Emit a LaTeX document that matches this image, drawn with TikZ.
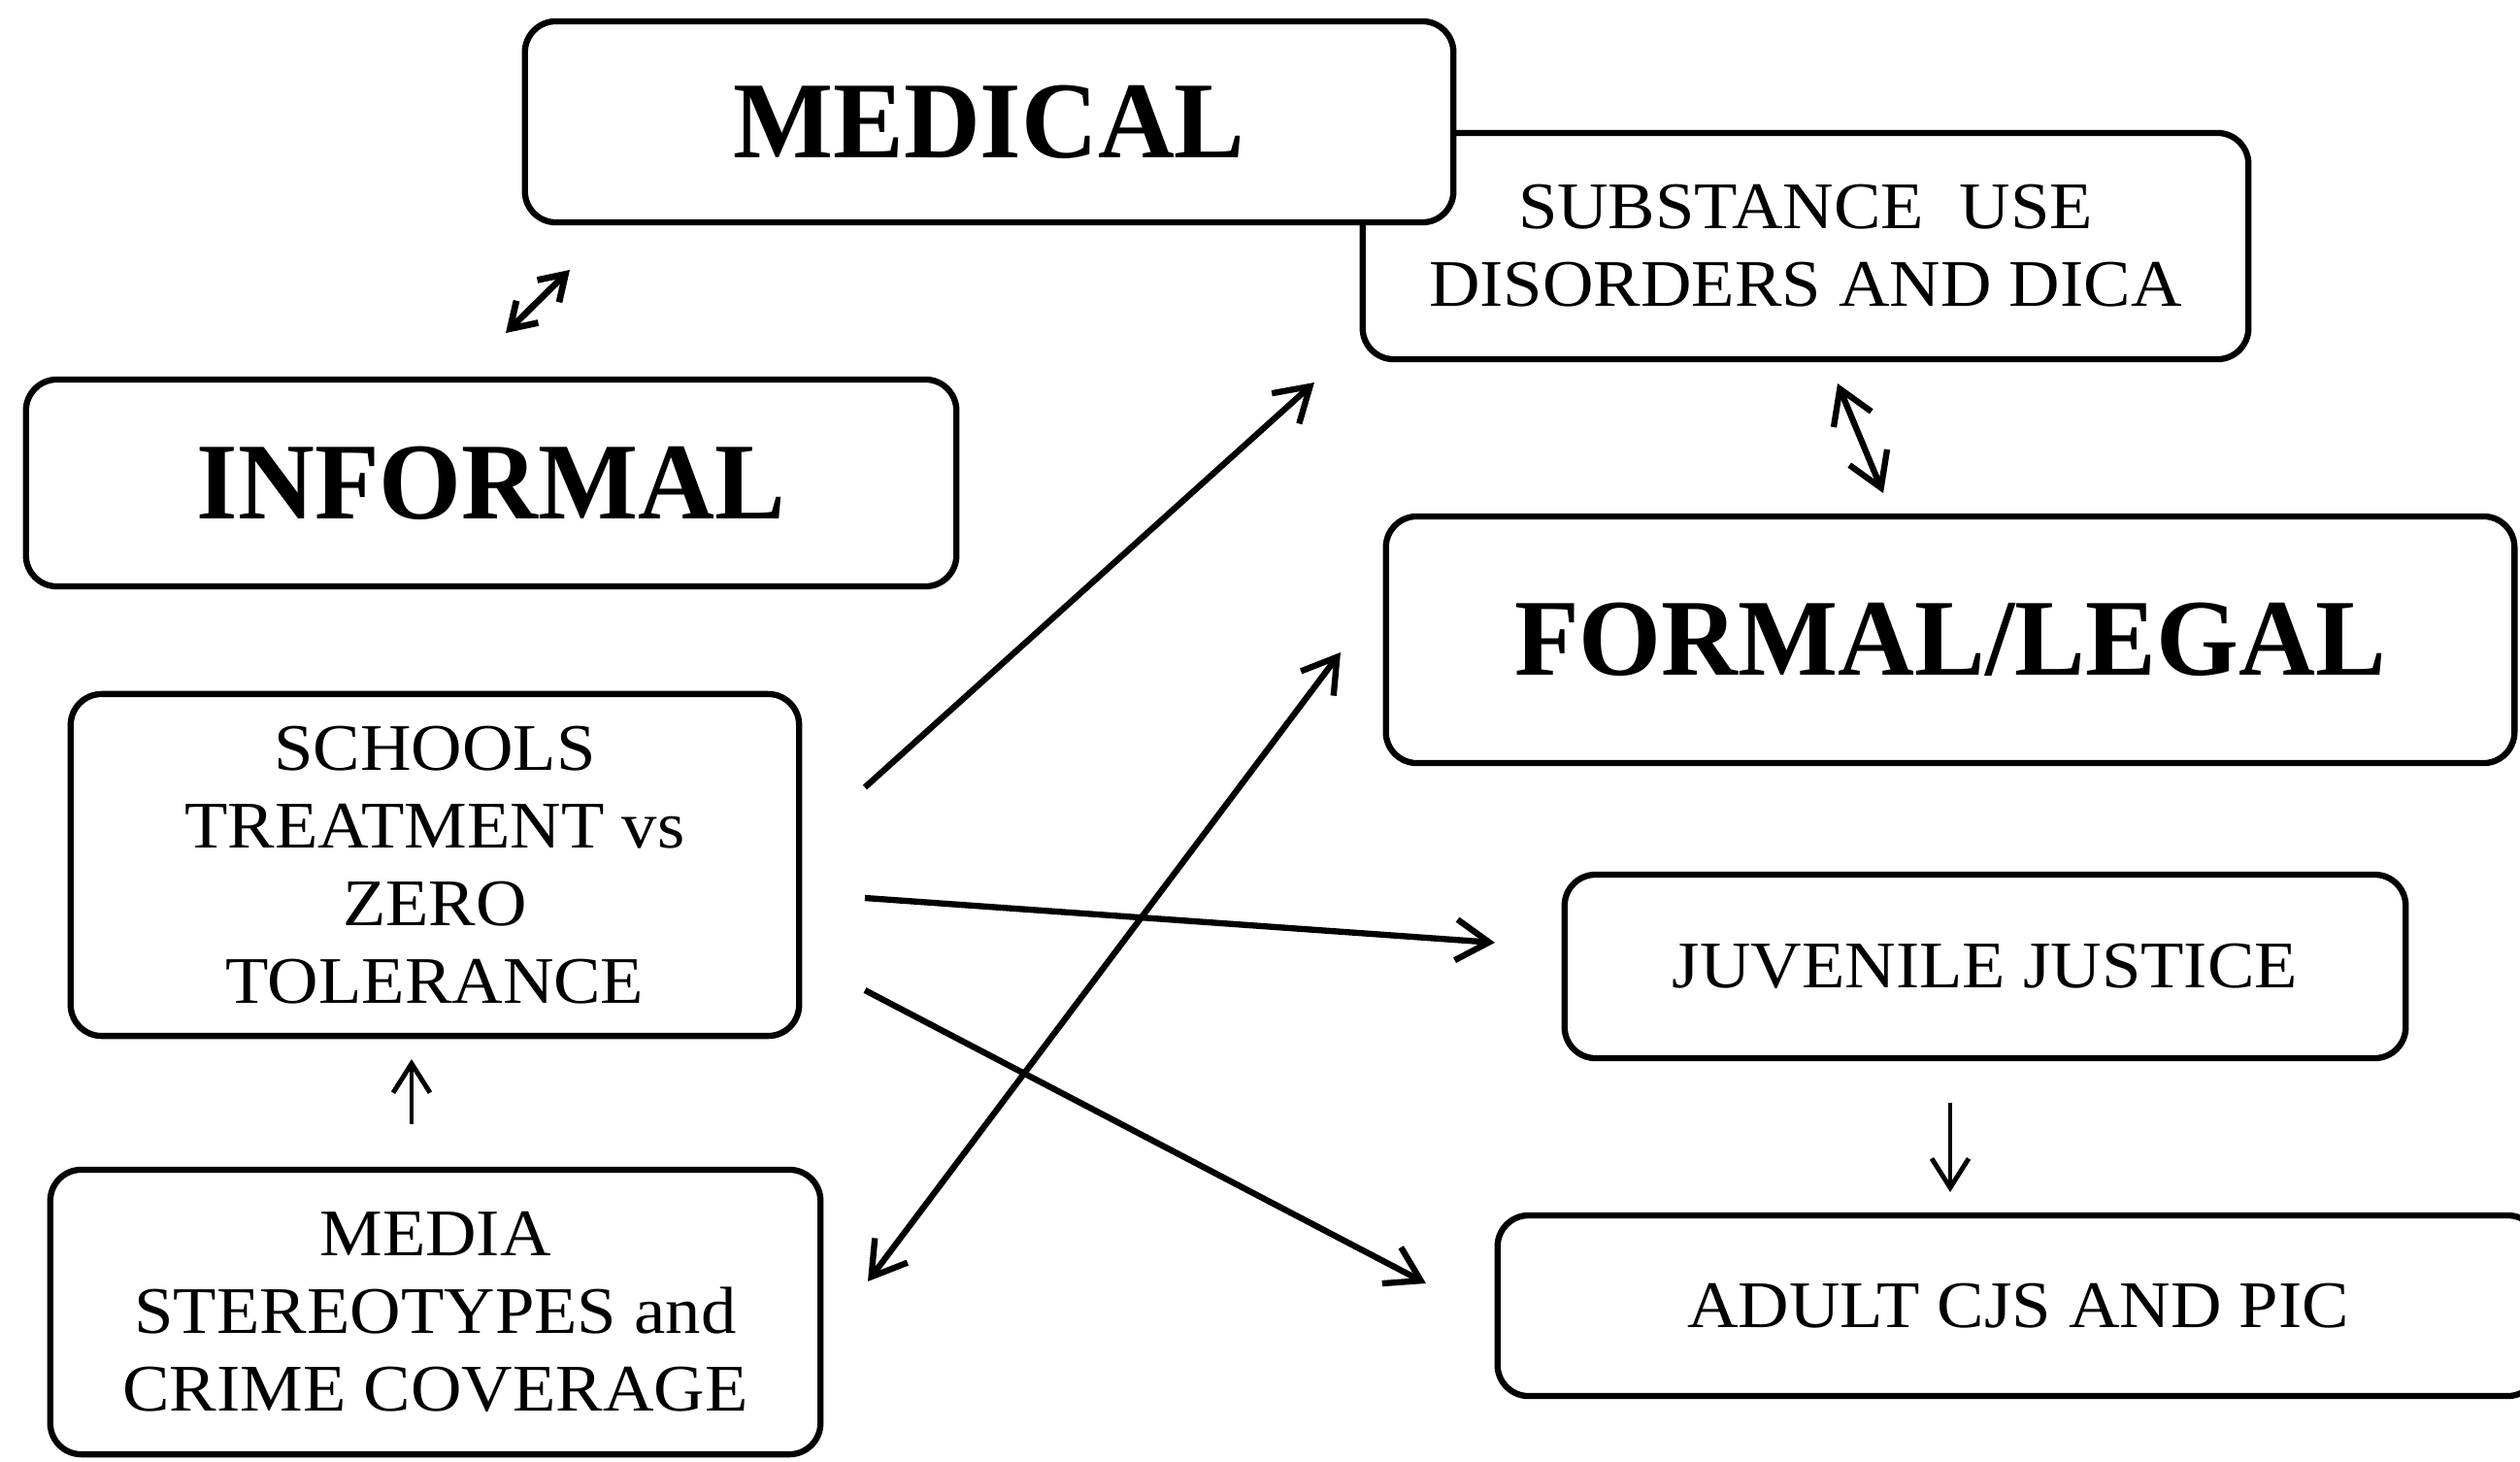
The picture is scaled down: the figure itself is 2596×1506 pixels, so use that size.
\documentclass[tikz,border=0pt]{standalone}
\usepackage{fontspec}
\setmainfont[FakeStretch=1.06]{Liberation Serif}
\newfontfamily\bigbold[FakeStretch=0.97]{Liberation Serif}
\usetikzlibrary{arrows.meta}
\begin{document}
\begin{tikzpicture}[x=0.01cm,y=-0.01cm,
  box/.style={draw, line width=1.8pt, rounded corners=0.32cm, fill=white,
    inner sep=0pt, align=center, font={\fontsize{19.5}{22.8}\selectfont}},
  bigtxt/.style={font={\bigbold\bfseries\fontsize{32}{38}\selectfont}},
  conn/.style={line width=1.8pt, -{Straight Barb[length=0.34cm,width=0.42cm,line width=1.8pt]}},
  dconn/.style={line width=1.8pt, {Straight Barb[length=0.34cm,width=0.42cm,line width=1.8pt]}-{Straight Barb[length=0.34cm,width=0.42cm,line width=1.8pt]}},
  sdconn/.style={line width=1.9pt, {Straight Barb[length=0.25cm,width=0.32cm,line width=1.9pt]}-{Straight Barb[length=0.25cm,width=0.32cm,line width=1.9pt]}},
  thinconn/.style={line width=1.4pt, -{Straight Barb[length=0.3cm,width=0.38cm,line width=1.4pt]}}
]
\useasboundingbox (0,0) rectangle (2596,1506);
\fill[white] (0,0) rectangle (2596,1506);

% boxes
\node[box, minimum width=9.12cm, minimum height=2.33cm] (sub) at (1860,253.5)
  {SUBSTANCE\ \ USE\\DISORDERS AND DICA};
\node[box, bigtxt, minimum width=9.56cm, minimum height=2.07cm] (med) at (1019,125.5) {MEDICAL};
\node[box, bigtxt, minimum width=9.58cm, minimum height=2.13cm] (inf) at (506,497.5) {INFORMAL};
\node[box, bigtxt, minimum width=11.62cm, minimum height=2.54cm] (form) at (2009,659) {FORMAL/LEGAL};
\node[box, minimum width=7.50cm, minimum height=3.52cm] (sch) at (448,891)
  {SCHOOLS\\TREATMENT vs\\ZERO\\TOLERANCE};
\node[box, minimum width=7.93cm, minimum height=2.93cm] (media) at (448.5,1351.5)
  {MEDIA\\STEREOTYPES and\\CRIME COVERAGE};
\node[box, minimum width=8.66cm, minimum height=1.89cm] (juv) at (2045,995.5) {JUVENILE JUSTICE};
\node[box, minimum width=10.72cm, minimum height=1.86cm] (adult) at (2079,1345) {ADULT CJS AND PIC};

% connector end points
\coordinate (i1) at (521,343);
\coordinate (m1) at (587,278);
\coordinate (s1) at (1893,395);
\coordinate (f1) at (1940,508);
\coordinate (a1) at (891,811);
\coordinate (a2) at (1354,394);
\coordinate (b1) at (891,925);
\coordinate (b2) at (1540,971);
\coordinate (c1) at (891,1020);
\coordinate (c2) at (1469,1322);
\coordinate (d1) at (894,1320);
\coordinate (d2) at (1381,672);
\coordinate (e1) at (424,1158);
\coordinate (e2) at (424,1091);
\coordinate (g1) at (2009,1136);
\coordinate (g2) at (2009,1228);

% connectors
\draw[sdconn] (i1) -- (m1);
\draw[dconn] (s1) -- (f1);
\draw[conn] (a1) -- (a2);
\draw[conn] (b1) -- (b2);
\draw[conn] (c1) -- (c2);
\draw[dconn] (d1) -- (d2);
\draw[thinconn] (e1) -- (e2);
\draw[thinconn] (g1) -- (g2);
\end{tikzpicture}
\end{document}
